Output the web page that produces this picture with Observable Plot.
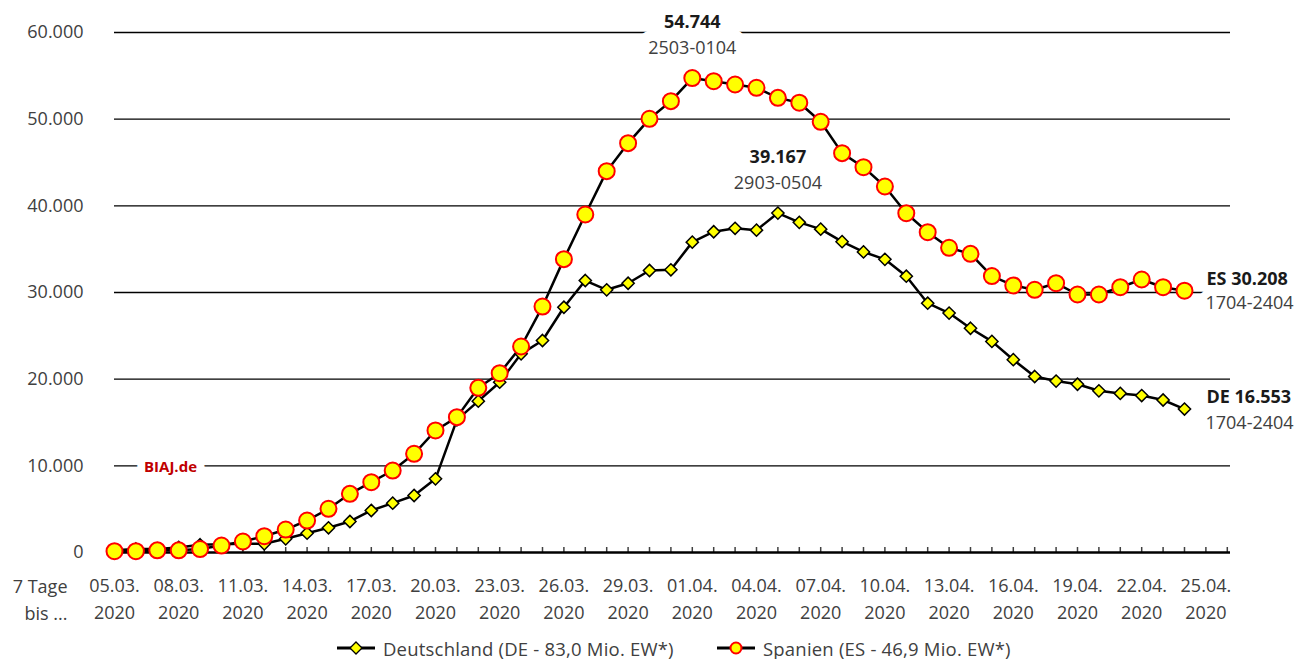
<!DOCTYPE html>
<html><head><meta charset="utf-8">
<script src="https://cdn.jsdelivr.net/npm/d3@7"></script>
<script src="https://cdn.jsdelivr.net/npm/@observablehq/plot@0.6"></script>
<style>
html,body{margin:0;padding:0;background:#fff;overflow:hidden;}
#chart svg{display:block;}
#legend{height:34px;box-sizing:border-box;padding-top:12px;padding-left:337px;display:flex;align-items:center;font-family:"Open Sans",sans-serif;font-size:18.5px;letter-spacing:0.2px;color:#404040;}
.item{display:flex;align-items:center;}
.item svg{margin-right:8px;}
</style></head><body>
<div id="chart"></div>
<div id="legend"></div>
<script>
// ---- data ----
const seriesNames = ["Deutschland (DE - 83,0 Mio. EW*)", "Spanien (ES - 46,9 Mio. EW*)"];
const seriesCodes = ["DE", "ES"];
const firstDay = new Date(Date.UTC(2020, 2, 5));   // 05.03.2020
const lastDay = new Date(Date.UTC(2020, 3, 24));   // 24.04.2020
const deValues = [
  250, 400, 400, 580, 890, 950, 1000, 1000, 1580, 2230,
  2850, 3580, 4850, 5690, 6580, 8500, 15300, 17460, 19650, 22920,
  24460, 28300, 31380, 30310, 31070, 32540, 32620, 35812, 37014, 37408,
  37196, 39167, 38093, 37312, 35862, 34680, 33829, 31880, 28765, 27625,
  25873, 24356, 22248, 20305, 19781, 19418, 18656, 18359, 18110, 17596,
  16553
];
const esValues = [
  150, 150, 250, 250, 400, 800, 1270, 1880, 2650, 3690,
  5040, 6770, 8110, 9460, 11390, 14080, 15620, 19000, 20690, 23770,
  28380, 33850, 39000, 44000, 47230, 50040, 52080, 54744, 54380, 54000,
  53620, 52460, 51900, 49700, 46080, 44460, 42230, 39150, 36960, 35160,
  34460, 31900, 30810, 30310, 31070, 29770, 29770, 30610, 31500, 30610,
  30208
];
const yTicks = [0, 10000, 20000, 30000, 40000, 50000, 60000];
const xTickLabels = ["05.03.", "08.03.", "11.03.", "14.03.", "17.03.", "20.03.", "23.03.", "26.03.", "29.03.",
  "01.04.", "04.04.", "07.04.", "10.04.", "13.04.", "16.04.", "19.04.", "22.04.", "25.04."];
const xTickYear = "2020";
const xAxisTitle = "7 Tage\nbis ...";
const esPeakPeriod = "2503-0104";
const dePeakPeriod = "2903-0504";
const endPeriod = "1704-2404";
const brand = "BIAJ.de";

// ---- build ----
const fmtNum = d3.formatLocale({decimal: ",", thousands: ".", grouping: [3], currency: ["", "€"]}).format(",d");
const days = d3.utcDay.range(firstDay, d3.utcDay.offset(lastDay, 1));
const de = days.map((d, i) => ({date: d, value: deValues[i]}));
const es = days.map((d, i) => ({date: d, value: esValues[i]}));
const tickDays = d3.utcDay.range(firstDay, d3.utcDay.offset(firstDay, 52), 3);
const labelMap = new Map(tickDays.map((d, i) => [+d, xTickLabels[i] + "\n" + xTickYear]));
const minorDays = d3.utcDay.range(firstDay, d3.utcDay.offset(firstDay, 53));

const esPeak = es.reduce((a, b) => b.value > a.value ? b : a);
const dePeak = de.reduce((a, b) => b.value > a.value ? b : a);
const esEnd = es[es.length - 1];
const deEnd = de[de.length - 1];

const bold = "#1a1a1a", grey = "#404040";
const halo = {stroke: "white", strokeWidth: 16, paintOrder: "stroke"};
const bigHalo = {stroke: "white", strokeWidth: 22, paintOrder: "stroke"};

const chart = Plot.plot({
  width: 1301,
  height: 625,
  marginLeft: 114,
  marginRight: 71,
  marginTop: 32,
  marginBottom: 73,
  style: {fontFamily: "'Open Sans', sans-serif", fontSize: "18px", color: grey, background: "white"},
  x: {type: "utc", domain: [firstDay, new Date(+d3.utcDay.offset(firstDay, 52) + 3.6 * 3600e3)]},
  y: {domain: [0, 60000]},
  marks: [
    Plot.ruleY(yTicks.filter(d => d > 0), {stroke: "black", strokeWidth: 1.4}),
    Plot.axisY({ticks: yTicks, tickFormat: fmtNum, tickSize: 0, tickPadding: 31, label: null}),
    Plot.axisX({ticks: tickDays, tickFormat: d => labelMap.get(+d), tickSize: 0, tickPadding: 20, lineHeight: 1.5, label: null}),
    Plot.axisX({ticks: minorDays, tickFormat: () => "", tickSize: 5, dy: -5, strokeWidth: 1.5, label: null}),
    Plot.text([xAxisTitle], {frameAnchor: "bottom-left", text: d => d, textAnchor: "end", lineAnchor: "top", lineHeight: 1.5, dx: -47, dy: 21, fill: grey}),
    Plot.text([brand], {x: () => firstDay, y: () => 10000, text: d => d, dx: 56, dy: 1, fill: "#C00000", fontWeight: "bold", fontSize: 15, ...halo}),
    // peak labels
    Plot.text([esPeak], {x: "date", y: "value", text: d => fmtNum(d.value), dy: -56, fontWeight: "bold", fill: bold, ...bigHalo}),
    Plot.text([esPeak], {x: "date", y: "value", text: () => esPeakPeriod, dy: -30, fill: grey, ...bigHalo}),
    Plot.text([dePeak], {x: "date", y: "value", text: d => fmtNum(d.value), dy: -56, fontWeight: "bold", fill: bold, ...halo}),
    Plot.text([dePeak], {x: "date", y: "value", text: () => dePeakPeriod, dy: -30, fill: grey, ...halo}),
    // end labels
    Plot.text([esEnd], {x: "date", y: "value", text: d => seriesCodes[1] + " " + fmtNum(d.value), dx: 22, dy: -11, textAnchor: "start", fontWeight: "bold", fill: bold, ...halo}),
    Plot.text([esEnd], {x: "date", y: "value", text: () => endPeriod, dx: 21, dy: 13, textAnchor: "start", fill: grey, ...halo}),
    Plot.text([deEnd], {x: "date", y: "value", text: d => seriesCodes[0] + " " + fmtNum(d.value), dx: 22, dy: -12, textAnchor: "start", fontWeight: "bold", fill: bold, ...halo}),
    Plot.text([deEnd], {x: "date", y: "value", text: () => endPeriod, dx: 21, dy: 14, textAnchor: "start", fill: grey, ...halo}),
    Plot.ruleY([0], {stroke: "black", strokeWidth: 2.5}),
    // series
    Plot.line(de, {x: "date", y: "value", stroke: "black", strokeWidth: 2.5}),
    Plot.dot(de, {x: "date", y: "value", symbol: "diamond2", r: 5.5, fill: "#FFFF00", stroke: "black", strokeWidth: 1.5}),
    Plot.line(es, {x: "date", y: "value", stroke: "black", strokeWidth: 2.5}),
    Plot.dot(es, {x: "date", y: "value", r: 8, fill: "#FFFF00", stroke: "#FF0000", strokeWidth: 2})
  ]
});
document.getElementById("chart").append(chart);

// legend
const legend = document.getElementById("legend");
const symbols = [
  `<svg width="38" height="16"><line x1="0" y1="8" x2="38" y2="8" stroke="black" stroke-width="3"/><path d="M19,2 L25,8 L19,14 L13,8 Z" fill="#FFFF00" stroke="black" stroke-width="1.3"/></svg>`,
  `<svg width="38" height="16"><line x1="0" y1="8" x2="38" y2="8" stroke="black" stroke-width="3"/><circle cx="19" cy="8" r="5.5" fill="#FFFF00" stroke="#FF0000" stroke-width="2"/></svg>`
];
seriesNames.forEach((name, i) => {
  const item = document.createElement("div");
  item.className = "item";
  if (i === 0) item.style.width = "380px";
  item.innerHTML = symbols[i] + `<span>${name}</span>`;
  legend.append(item);
});
</script></body></html>
